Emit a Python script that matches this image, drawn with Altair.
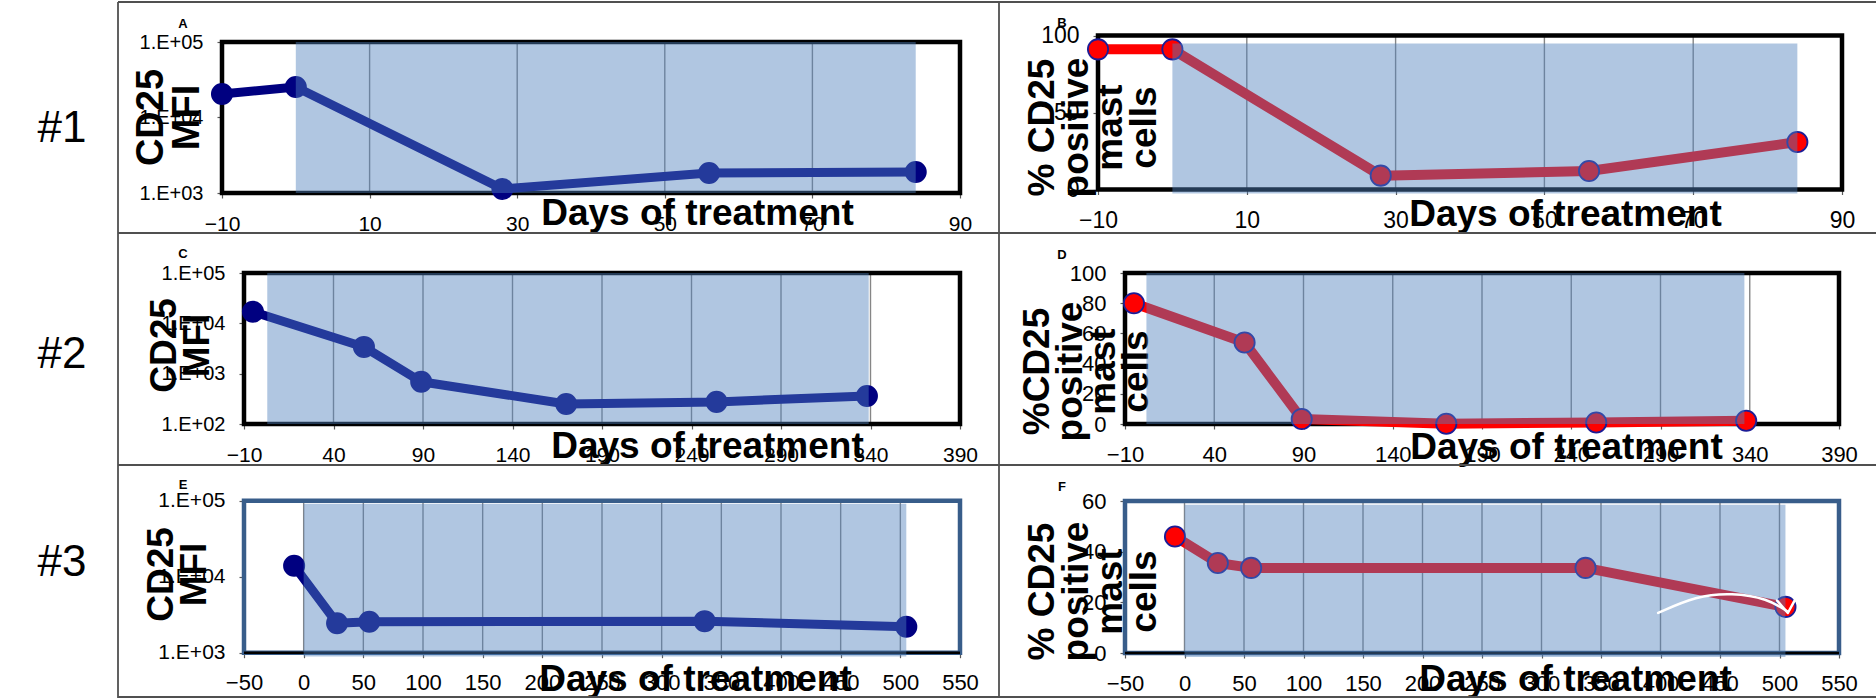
import altair as alt
import pandas as pd

FONT = "Liberation Sans, Arial, Helvetica, sans-serif"
W, H = 1876, 698

# ---------------- data ----------------
# patient #1
days_1 = [-10, 0, 28, 56, 84]
mfi_1 = [20500, 25400, 1130, 1840, 1900]
pct_1 = [91, 91, 9.0, 12.0, 30.8]
treat_1 = [0, 84]

# patient #2
days_2 = [-5, 57, 89, 170, 254, 338]
mfi_2 = [17000, 3400, 690, 250, 275, 360]
pct_2 = [80, 54, 3.3, 0.2, 1.0, 2.2]
treat_2_mfi = [3, 339]
treat_2_pct = [2, 337]

# patient #3
days_3_mfi = [-8, 28, 55, 336, 505]
mfi_3 = [13960, 2440, 2560, 2600, 2200]
days_3_pct = [-8, 28, 56, 337, 505]
pct_3 = [46, 35.5, 33.6, 33.6, 18.2]
treat_3 = [0, 505]

# vertical extent of the treatment band in each panel
band_a = [1e3, 1e5]
band_b = [-2.6, 94.8]
band_c = [1e2, 1e5]
band_d = [0, 100]
band_e = [890, 91000]
band_f = [-1.6, 58.5]

# axis ticks
x_ticks_1 = [-10, 10, 30, 50, 70, 90]
x_ticks_2 = [-10, 40, 90, 140, 190, 240, 290, 340, 390]
x_ticks_3 = [-50, 0, 50, 100, 150, 200, 250, 300, 350, 400, 450, 500, 550]
y_ticks_mfi_1 = [1e3, 1e4, 1e5]
y_ticks_mfi_2 = [1e2, 1e3, 1e4, 1e5]
y_ticks_pct_1 = [0, 50, 100]
y_ticks_pct_2 = [0, 20, 40, 60, 80, 100]
y_ticks_pct_3 = [0, 20, 40, 60]

# white curved arrow in panel F (days, % positive)
arrow_days = [398, 430, 460, 490, 507]
arrow_pct = [15.8, 22.5, 23.8, 21.5, 16.3]
arrow_head_days = [498, 507, 513]
arrow_head_pct = [20.7, 15.8, 21.0]

NAVY = "#000080"
RED = "#ff0000"
BAND = "#4F81BD"
GRID = "#868686"
TICK = "#595959"


def panel(days, vals, treat, band, x_ticks, y_ticks, x_px, y_px, log_y,
          line_color, line_width, marker_fill, marker_stroke, frame_color, frame_bottom,
          x_title_at, y_title, y_title_at, y_title_lh, y_title_size,
          y_label_size, x_label_size, extra=None):
    x_dom = [x_ticks[0], x_ticks[-1]]
    y_dom = [y_ticks[0], y_ticks[-1]]
    xs = alt.Scale(domain=x_dom, range=x_px, nice=False, zero=False)
    if log_y:
        ys = alt.Scale(type="log", domain=y_dom, range=y_px, nice=False)
        ylab = dict(labelExpr="'1.E+0' + format(log(datum.value) / LN10, '.0f')")
    else:
        ys = alt.Scale(domain=y_dom, range=y_px, nice=False, zero=False)
        ylab = dict(format="d")

    xa = alt.Axis(
        values=x_ticks, orient="bottom", offset=y_px[0] - H, format="d",
        title="Days of treatment", titleX=x_title_at[0], titleY=x_title_at[1] - y_px[0],
        titleAlign="center", titleBaseline="alphabetic", titleAngle=0,
        titleFont=FONT, titleFontSize=37, titleFontWeight="bold", titleColor="black",
        labelFont=FONT, labelFontSize=x_label_size, labelColor="black",
        labelPadding=15, labelOverlap=False, labelFlush=False, labelBound=False,
        tickSize=5, tickColor=TICK, tickWidth=1.2, domain=False, grid=False,
    )
    ya = alt.Axis(
        values=y_ticks, orient="left", offset=-x_px[0],
        title=y_title, titleX=y_title_at[0] - x_px[0], titleY=y_title_at[1],
        titleAlign="center", titleBaseline="alphabetic", titleAngle=270,
        titleLineHeight=y_title_lh,
        titleFont=FONT, titleFontSize=y_title_size, titleFontWeight="bold", titleColor="black",
        labelFont=FONT, labelFontSize=y_label_size, labelColor="black",
        labelPadding=14, labelOverlap=False, labelFlush=False, labelBound=False,
        tickSize=5, tickColor=TICK, tickWidth=1.2, domain=False, grid=False,
        **ylab,
    )

    def X(f):
        return alt.X(f"{f}:Q", scale=xs, axis=xa)

    def Y(f):
        return alt.Y(f"{f}:Q", scale=ys, axis=ya)

    grid_df = pd.DataFrame({"gx": x_ticks[1:-1]})
    grid_df["lo"] = y_dom[0]
    grid_df["hi"] = y_dom[1]
    frame_df = pd.DataFrame({"x0": [x_dom[0]], "x1": [x_dom[1]],
                             "y0": [y_dom[0]], "y1": [y_dom[1]]})
    pts_df = pd.DataFrame({"day": days, "val": vals})
    band_df = pd.DataFrame({"t0": [treat[0]], "t1": [treat[1]],
                            "s0": [band[0]], "s1": [band[1]]})

    layers = [
        alt.Chart(grid_df).mark_rule(color=GRID, strokeWidth=1.4).encode(
            x=X("gx"), y=Y("lo"), y2="hi"),
        alt.Chart(frame_df).mark_rect(fillOpacity=0, stroke=frame_color, strokeWidth=4.5).encode(
            x=X("x0"), x2="x1", y=Y("y0"), y2="y1"),
    ]
    if frame_bottom:
        layers.append(
            alt.Chart(frame_df).mark_rule(color=frame_bottom, strokeWidth=2.5).encode(
                x=X("x0"), x2="x1", y=Y("y0")))
    layers += [
        alt.Chart(pts_df).mark_line(color=line_color, strokeWidth=line_width,
                                    strokeJoin="round", strokeCap="round").encode(
            x=X("day"), y=Y("val")),
        alt.Chart(pts_df).mark_circle(size=410, fill=marker_fill, stroke=marker_stroke,
                                      strokeWidth=1.8, opacity=1).encode(
            x=X("day"), y=Y("val")),
        alt.Chart(band_df).mark_rect(color=BAND, opacity=0.45).encode(
            x=X("t0"), x2="t1", y=Y("s0"), y2="s1"),
    ]
    if extra:
        for df, mk in extra:
            layers.append(alt.Chart(df).mark_line(**mk).encode(x=X("d"), y=Y("v")))
    return alt.layer(*layers)


arrow_extra = [
    (pd.DataFrame({"d": arrow_days, "v": arrow_pct}),
     dict(color="white", strokeWidth=2.5, interpolate="basis", strokeCap="round")),
    (pd.DataFrame({"d": arrow_head_days, "v": arrow_head_pct}),
     dict(color="white", strokeWidth=2.5, strokeCap="round", strokeJoin="round")),
]

pct_title = ["% CD25", "positive", "mast", "cells"]

pA = panel(days_1, mfi_1, treat_1, band_a, x_ticks_1, y_ticks_mfi_1, [222, 960], [193, 42], True,
           NAVY, 9, NAVY, NAVY, "black", None, (697, 224), ["CD25", "MFI"], (162, 117), 36, 38, 20, 21)
pB = panel(days_1, pct_1, treat_1, band_b, x_ticks_1, y_ticks_pct_1, [1098, 1842], [189.5, 35.5], False,
           RED, 10, RED, "#1c1c96", "black", None, (1565, 225), pct_title, (1053, 127), 34, 37, 23, 23)
pC = panel(days_2, mfi_2, treat_2_mfi, band_c, x_ticks_2, y_ticks_mfi_2, [244, 960], [424, 273], True,
           NAVY, 9, NAVY, NAVY, "black", None, (707, 457), ["CD25", "MFI"], (175, 345), 33, 37, 20, 21)
pD = panel(days_2, pct_2, treat_2_pct, band_d, x_ticks_2, y_ticks_pct_2, [1125, 1839], [424, 273], False,
           RED, 10, RED, "#1c1c96", "black", None, (1566, 458), ["%CD25", "positive", "mast", "cells"],
           (1048, 371), 33, 37, 22, 22)
pE = panel(days_3_mfi, mfi_3, treat_3, band_e, x_ticks_3, y_ticks_mfi_1, [244, 960], [652.7, 500.7], True,
           NAVY, 9, NAVY, NAVY, "#385D8A", "black", (695, 690), ["CD25", "MFI"], (172, 574), 33, 37, 21, 22)
pF = panel(days_3_pct, pct_3, treat_3, band_f, x_ticks_3, y_ticks_pct_3, [1125, 1839], [653, 501], False,
           RED, 10, RED, "#1c1c96", "#385D8A", "black", (1575, 690), pct_title, (1053, 591), 34, 37, 22, 22,
           extra=arrow_extra)

# table ruling, row labels and panel letters
one = pd.DataFrame({"k": [0]})


def rule(x0, x1, y0, y1):
    return alt.Chart(one).mark_rule(color="#505050", strokeWidth=1.8).encode(
        x=alt.value(x0), x2=alt.value(x1), y=alt.value(y0), y2=alt.value(y1))


def label(txt, x, y, size, weight):
    return alt.Chart(pd.DataFrame({"t": [txt]})).mark_text(
        font=FONT, fontSize=size, fontWeight=weight, color="black",
        align="center", baseline="middle").encode(
        x=alt.value(x), y=alt.value(y), text="t:N")


deco = [
    rule(118, 118, 2, 698), rule(999, 999, 2, 698),
    rule(118, W, 2, 2), rule(118, W, 233, 233), rule(118, W, 465, 465), rule(118, W, 697, 697),
    label("#1", 62, 129, 44, "normal"),
    label("#2", 62, 355, 44, "normal"),
    label("#3", 62, 563, 44, "normal"),
    label("A", 183, 24, 13, "bold"), label("B", 1062, 23, 13, "bold"),
    label("C", 183, 254, 13, "bold"), label("D", 1062, 255, 13, "bold"),
    label("E", 183, 485, 13, "bold"), label("F", 1062, 487, 13, "bold"),
]

chart = alt.layer(*deco, pA, pB, pC, pD, pE, pF).resolve_scale(
    x="independent", y="independent"
).properties(
    width=W, height=H, autosize=alt.AutoSizeParams(type="none"), padding=0, background="white"
).configure_view(strokeWidth=0)

chart.save("out.html", embed_options={"renderer": "svg", "actions": False})
